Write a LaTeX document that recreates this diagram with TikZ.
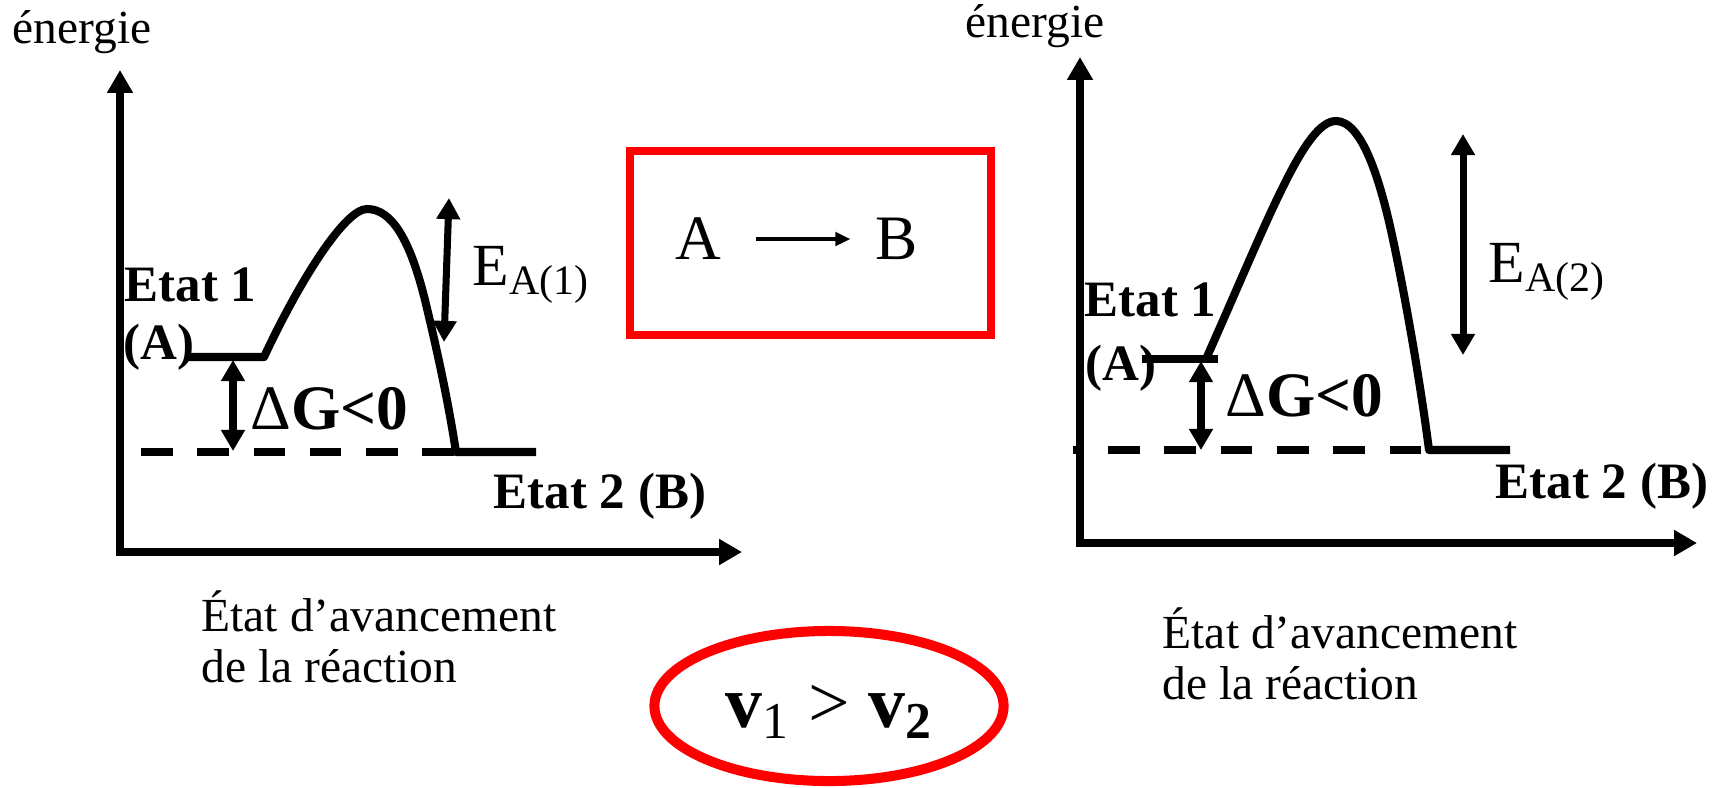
\documentclass[tikz,border=0pt]{standalone}
\usepackage{fontspec}
\setmainfont{Liberation Serif}
\usetikzlibrary{arrows.meta,shapes.geometric,positioning}

\tikzset{
  axe/.style={line width=2.2pt, {Triangle[length=6.5pt,width=7pt]}-{Triangle[length=6.5pt,width=7pt]}},
  courbe/.style={line width=2.3pt, line join=round},
  pointille/.style={line width=2.2pt, dash pattern=on 9pt off 7pt},
  fleche/.style={line width=2pt, {Triangle[length=6pt,width=6.5pt]}-{Triangle[length=6pt,width=6.5pt]}},
  etiq/.style={font=\fontsize{14.5}{16}\selectfont\bfseries, inner sep=0pt, anchor=base west},
  delta/.style={font=\fontsize{18}{20}\selectfont\bfseries, inner sep=0pt, anchor=base west},
  energ/.style={font=\fontsize{17}{18}\selectfont, inner sep=0pt, anchor=base west},
  texte/.style={font=\fontsize{13.5}{15}\selectfont, inner sep=0pt, anchor=base west},
  legende/.style={font=\fontsize{13.5}{14.5}\selectfont, inner sep=0pt, anchor=west, align=left},
  cadre/.style={draw=red, line width=2.3pt},
}

\begin{document}
\begin{tikzpicture}[x=0.01cm, y=-0.01cm]
\useasboundingbox (0,0) rectangle (1730,787);

%==================== diagramme 1 ====================
\coordinate (yL) at (120,70);
\coordinate (oL) at (120,552);
\coordinate (xL) at (742,552);
\draw[axe] (yL) -- (oL) -- (xL);

\node[texte] (enL) at (12,43) {énergie};
\node[etiq] (etat1L) at (124,301) {Etat 1};
\node[etiq] (AL) at (123,359) {(A)};
\node[etiq] (etat2L) at (493,508) {Etat 2 (B)};

% niveaux et barriere
\draw[courbe] (188,357) -- (264,357)
  .. controls (300,280) and (345,209) .. (367,209)
  .. controls (392,209) and (410,240) .. (425,300)
  .. controls (437,350) and (448,400) .. (456,452) -- (536,452);
\draw[pointille] (141,452) -- (456,452);

\coordinate (dGhautL) at (233,360);
\coordinate (dGbasL) at (233,451);
\draw[fleche] (dGhautL) -- (dGbasL);
\node[delta] (dGL) at (250,429) {{\mdseries Δ}G<0};

\coordinate (EahautL) at (449,198);
\coordinate (EabasL) at (444,342);
\draw[fleche] (EahautL) -- (EabasL);
\node[energ] (eaL) at (472,285) {E\textsubscript{A(1)}};

\node[legende] (avL) at (201,637) {État d’avancement\\de la réaction};

%==================== reaction ====================
\draw[cadre] (630,151) rectangle (991,335);
\node[font=\fontsize{18}{20}\selectfont] (reacA) at (698,239) {A};
\node[font=\fontsize{18}{20}\selectfont] (reacB) at (897,239) {B};
\draw[line width=1.1pt, -{Triangle[length=4.3pt,width=3.8pt]}, shorten <=6.5pt, shorten >=3.7pt] (reacA) -- (reacB);

\node[ellipse, draw=red, line width=2.85pt, inner sep=0pt, minimum width=3.49cm, minimum height=1.50cm,
  text height=12pt, text depth=0pt, font=\fontsize{21}{23}\selectfont] (vitesse) at (829,706)
  {\textbf{v}\textsubscript{1} > \textbf{v\textsubscript{2}}};

%==================== diagramme 2 ====================
\coordinate (yR) at (1080,57);
\coordinate (oR) at (1080,543);
\coordinate (xR) at (1697,543);
\draw[axe] (yR) -- (oR) -- (xR);

\node[texte] (enR) at (965,37) {énergie};
\node[etiq] (etat1R) at (1084,316) {Etat 1};
\node[etiq] (AR) at (1085,380) {(A)};
\node[etiq] (etat2R) at (1495,498) {Etat 2 (B)};

\draw[courbe] (1142,359) -- (1218,359);
\draw[courbe] (1206,359)
  .. controls (1270,215) and (1305,121) .. (1336,121)
  .. controls (1362,121) and (1380,180) .. (1392,235)
  .. controls (1404,290) and (1420,380) .. (1429,450) -- (1510,450);
\draw[pointille, dash phase=6pt] (1073,450) -- (1429,450);

\coordinate (dGhautR) at (1201,361);
\coordinate (dGbasR) at (1201,450);
\draw[fleche] (dGhautR) -- (dGbasR);
\node[delta] (dGR) at (1225,416) {{\mdseries Δ}G<0};

\coordinate (EahautR) at (1463,134);
\coordinate (EabasR) at (1463,355);
\draw[fleche] (EahautR) -- (EabasR);
\node[energ] (eaR) at (1488,282) {E\textsubscript{A(2)}};

\node[legende] (avR) at (1162,654) {État d’avancement\\de la réaction};
\end{tikzpicture}
\end{document}
